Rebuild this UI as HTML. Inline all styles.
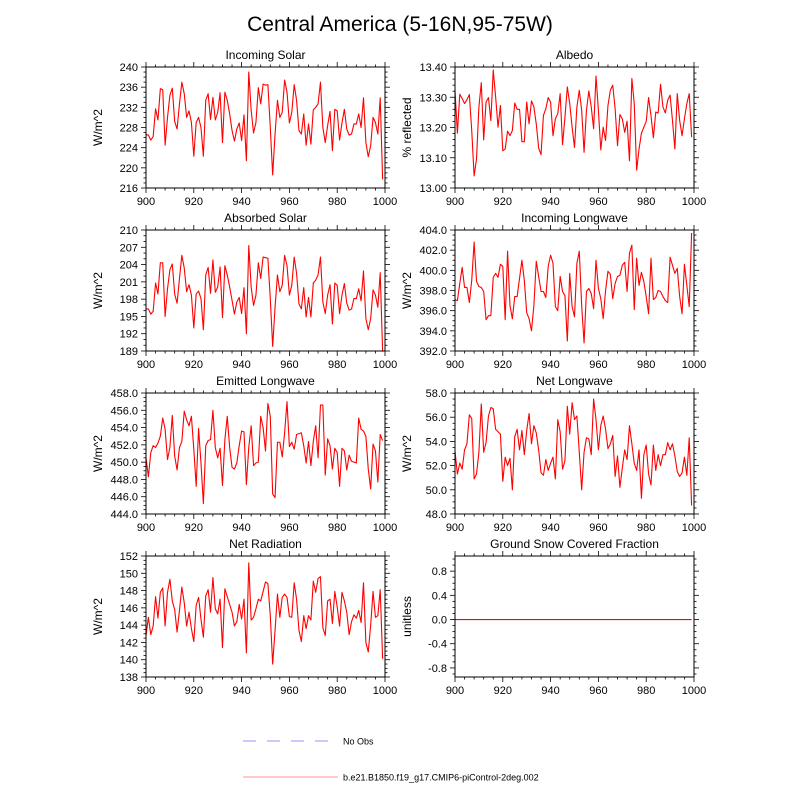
<!DOCTYPE html>
<html><head><meta charset="utf-8">
<style>
html,body{margin:0;padding:0;background:#fff;}
svg{display:block;font-family:"Liberation Sans",Arial,sans-serif;}
</style></head>
<body>
<svg id="chart" width="800" height="800" viewBox="0 0 800 800">
<text x="400" y="31" text-anchor="middle" font-size="21">Central America (5-16N,95-75W)</text>
<g>
<line x1="243" y1="741" x2="328" y2="741" stroke="#aaaaff" stroke-width="1.3" stroke-dasharray="13,11"/>
<text x="343" y="744.5" font-size="9">No Obs</text>
<line x1="243" y1="777" x2="338" y2="777" stroke="#ffaaaa" stroke-width="1.3"/>
<text x="343" y="780.5" font-size="9">b.e21.B1850.f19_g17.CMIP6-piControl-2deg.002</text>
</g>
</svg>
<script>
const years = Array.from({length:100},(_,i)=>900+i);
const xTicks = [900,920,940,960,980,1000];
const incomingSolar = [226.6,226.5,225.5,226.2,231.7,229.5,235.7,235.5,224.5,230,234.4,235.8,229.2,227.7,232.7,237,234.7,230,231.3,229,222.3,229,230,228,222.3,233.4,234.7,229.6,234,229.5,231,234.9,225,235,233.4,230.7,227.4,225.3,227.7,228.9,225.4,230.5,221.4,239,231.4,226.9,229,235.9,232.7,236.6,236.4,236.5,228,218.6,226.7,233.4,230,231,237.4,235,228.9,231,236.5,233.4,227.4,226.7,230.7,224.5,228.7,224.7,231.5,232,232.7,237,228,225,228.4,231.2,223.4,231.6,231.3,225.5,228.9,231.6,227.7,226.5,226.7,228.7,228.7,230.7,228,233.9,225,222.2,224.4,230,229,226.7,233.9,217.7];
const albedo = [13.323,13.181,13.31,13.296,13.279,13.292,13.309,13.19,13.04,13.096,13.268,13.348,13.159,13.284,13.299,13.223,13.39,13.301,13.201,13.273,13.123,13.129,13.188,13.173,13.19,13.281,13.26,13.26,13.153,13.153,13.284,13.212,13.288,13.268,13.212,13.132,13.11,13.24,13.262,13.299,13.284,13.173,13.229,13.246,13.312,13.143,13.234,13.334,13.279,13.201,13.134,13.268,13.323,13.257,13.118,13.257,13.321,13.268,13.196,13.37,13.257,13.126,13.201,13.157,13.273,13.323,13.34,13.262,13.14,13.243,13.229,13.184,13.221,13.09,13.362,13.279,13.059,13.129,13.181,13.201,13.22,13.299,13.24,13.166,13.251,13.248,13.343,13.268,13.248,13.29,13.307,13.223,13.129,13.312,13.223,13.173,13.229,13.279,13.312,13.168];
const absorbedSolar = [196.3,196.3,195.4,195.9,200.8,198.9,204.3,204.3,195,199.8,203.1,204.1,198.9,197.3,201.6,205.6,203.4,199.3,200.5,198.7,193,198.9,199.4,198.1,192.7,202.2,203.5,199,204.8,199.2,200.1,203.6,194.8,203.8,202.2,200.1,197.8,195.4,197.5,198.3,195.5,200,192,207.3,200.1,196.9,198.7,204.3,201.6,205.3,205.2,205.1,198.1,189.8,196.6,202.2,199.3,200.4,205.6,203.8,198.7,200.4,205.3,202.5,197.2,196.3,200,194.9,198.3,194.9,200.8,201.3,202.2,205.3,197.5,195.5,198.7,200.5,193.7,200.8,200.4,195.5,198.7,200.7,197.3,196.1,196.3,198.1,198.1,199.8,197.7,202.9,194.6,192.7,194.6,199.6,198.7,196.6,202.6,188.9];
const incomingLW = [397.1,397,398.7,400.3,398.3,398.3,396.8,399,402.8,398.9,398.4,398.3,397.9,395.1,395.5,395.5,399.3,399.7,399.3,400.6,400.4,395.1,401.9,396.5,395.2,397.4,397.4,399.2,401,399,395.8,395.2,394,396.5,400.9,399.4,397.9,397.9,397.3,400.4,401.5,400.7,396.4,396,399.4,397.9,397.5,393,399.7,396.4,395.4,400.7,401.9,396.5,392.8,397.9,398.2,397.7,396.2,401,398.2,397.2,395.2,398,399.9,399.6,397.2,398.7,399.4,399.5,400.5,400.8,397.9,401.7,402.5,396.1,401.2,398.5,399.8,398.9,397.4,395.7,401.2,397.1,397.3,398,397.9,397.4,397,396.8,401.3,400.5,399.7,400.2,397.4,395.7,400.6,398.5,396.4,403.7];
const emittedLW = [450.5,448.3,451.1,451.9,451.7,452.2,453,455.1,453.8,450.3,451.7,455.4,450.7,449.1,451.7,452.4,455.9,454.9,454.2,455.3,451.5,447.2,453.9,449.9,445.2,451.9,452.5,452.6,456,451.7,450.5,451.6,447.3,452.6,455.3,451.7,449.4,449.2,449.9,451.9,453.6,453.5,447.4,451.7,454.2,449.6,449.9,450,455.3,454,451.3,456.8,455.3,446.3,445.9,452.3,452.3,450.6,453.4,457,451.8,452.3,451.5,453.2,453.3,453.4,451.9,449.9,452.4,449.6,452.4,454.2,450.5,456.6,456.6,448.5,452.7,451.9,449.2,451.6,451.1,447.2,451.6,451.3,449.1,450.8,450.1,450,449.9,455.1,453.8,453.6,453,449.2,446.9,452.1,451.3,447.7,453.2,452.5];
const netLW = [53.2,51.3,52.2,51.7,53.3,53.8,56.2,55.9,50.9,51.3,53.1,57.1,53.1,53.9,56.1,56.8,56.7,55,54.8,54.6,50.7,52.7,52,52.6,50,54.4,55,53.3,54.9,52.9,54.9,56.3,53.8,55.3,54.7,53.3,51.4,51.2,52.5,51.6,52.2,52.7,50.9,55.8,54.8,51.7,52.4,56.9,54.6,57.2,55.8,56.1,53.1,50,53.1,54.3,54.2,52.9,57.5,55.8,53.3,55.3,56.1,55,53.4,53.8,54.5,51.1,52.8,50.2,51.8,53.3,52.5,55.3,53.8,52.2,51.6,53.3,49.3,52.9,53.7,51.3,50.4,53.7,51.6,52.9,52,52.9,52.9,53.9,53.3,53.8,52.8,51.5,51.1,51.4,52.7,51.2,54.3,48.7];
const netRad = [142.8,144.9,142.9,143.9,147.3,144.8,147.8,148.3,143.9,147.8,149.3,146.8,145.8,143.2,145.7,148.4,146.6,143.9,145.5,143.6,142.1,146.3,147.2,144.7,142.6,147.4,148.1,145.5,149.5,145.9,145.3,147,141.4,148.2,147.3,146.4,145.5,143.9,144.4,146.4,144.7,147,140.8,151.2,144.6,144.9,145.9,147,146.8,147.9,149,148.8,145.1,139.5,143.4,147.6,144.9,147.2,147.6,147.2,145,144.9,148.9,147,143.4,142.1,145.1,143.6,145.1,144.6,149.1,147.8,149.4,149.6,143.7,142.8,146.8,147,144.2,147.9,146.1,143.9,147.8,146.8,145.5,142.9,144.4,145.2,144.8,145.7,144.3,148.9,142,140.9,144,147.9,144.9,145.1,148.1,140.1];
const snowFrac = years.map(()=>0);
const yTicksIS = ["240","236","232","228","224","220","216"];
const yTicksAlb = ["13.40","13.30","13.20","13.10","13.00"];
const yTicksAbs = ["210","207","204","201","198","195","192","189"];
const yTicksILW = ["404.0","402.0","400.0","398.0","396.0","394.0","392.0"];
const yTicksELW = ["458.0","456.0","454.0","452.0","450.0","448.0","446.0","444.0"];
const yTicksNLW = ["58.0","56.0","54.0","52.0","50.0","48.0"];
const yTicksNR = ["152","150","148","146","144","142","140","138"];
const yTicksSnow = ["0.8","0.4","0.0","-0.4","-0.8"];

const NS="http://www.w3.org/2000/svg";
const svg=document.getElementById('chart');
function mk(tag,attrs,parent){const e=document.createElementNS(NS,tag);for(const k in attrs)e.setAttribute(k,attrs[k]);(parent||svg).appendChild(e);return e;}

function panel(o){
  const g=mk('g',{});
  
  
  const X0=o.x, X1=o.x+239, Y0=o.y, Y1=o.y+121;
  const xs=v=>X0+(v-900)/100*(X1-X0);
  const ys=v=>Y1-(v-o.ymin)/(o.ymax-o.ymin)*(Y1-Y0);
  for(let v=900; v<=1000; v+=4){
    const major=(v%20===0);
    const len=major?5:2.5;
    const px=xs(v);
    const t1=mk('line',{x1:px,y1:Y1,x2:px,y2:Y1+len,stroke:'#000','stroke-width':0.8},g);
    
    
    const t2=mk('line',{x1:px,y1:Y0,x2:px,y2:Y0-len,stroke:'#000','stroke-width':0.8},g);
    
    
  }
  xTicks.forEach(v=>{
    const t=mk('text',{x:xs(v),y:Y1+17,'text-anchor':'middle','font-size':11},g);
    t.textContent=String(v);
    
    
  });
  const majVals=o.yticks.map(s=>parseFloat(s));
  const majStep=majVals[0]-majVals[1];
  const minStep=majStep/o.minor;
  const start=majVals[majVals.length-1];
  const kmin=Math.ceil((o.ymin-start)/minStep-1e-6), kmax=Math.floor((o.ymax-start)/minStep+1e-6);
  for(let k=kmin;k<=kmax;k++){
    const v=start+k*minStep;
    const py=ys(v);
    const isMaj=(k%o.minor===0);
    const len=isMaj?5:2.5;
    const a=mk('line',{x1:X0,y1:py,x2:X0-len,y2:py,stroke:'#000','stroke-width':0.8},g);
    
    
    const b=mk('line',{x1:X1,y1:py,x2:X1+len,y2:py,stroke:'#000','stroke-width':0.8},g);
    
    
  }
  o.yticks.forEach(s=>{
    const t=mk('text',{x:X0-8,y:ys(parseFloat(s))+4,'text-anchor':'end','font-size':11},g);
    t.textContent=s;
    
    
  });
  const pts=o.data.map((v,i)=>xs(years[i]).toFixed(2)+','+ys(v).toFixed(2)).join(' ');
  const pl=mk('polyline',{points:pts,fill:'none',stroke:'#ff0000','stroke-width':1.1,'stroke-linejoin':'round'},g);
  
  
  const fr=mk('rect',{x:X0,y:Y0,width:X1-X0,height:Y1-Y0,fill:'none',stroke:'#000','stroke-width':1},g);
  
  
  const tt=mk('text',{x:(X0+X1)/2,y:Y0-8,'text-anchor':'middle','font-size':12},g);
  tt.textContent=o.title;
  
  
  const cx=o.x-44, cy=(Y0+Y1)/2;
  const yt=mk('text',{x:cx,y:cy,'text-anchor':'middle','font-size':12,transform:`rotate(-90 ${cx} ${cy})`},g);
  yt.textContent=o.ylabel;
  
  
}

const L=146, R=455;
panel({name:'incoming-solar',x:L,y:67,ymin:216,ymax:240,yticks:yTicksIS,minor:4,data:incomingSolar,title:'Incoming Solar',ylabel:'W/m^2'});
panel({name:'albedo',x:R,y:67,ymin:13.0,ymax:13.4,yticks:yTicksAlb,minor:5,data:albedo,title:'Albedo',ylabel:'% reflected'});
panel({name:'absorbed-solar',x:L,y:230,ymin:189,ymax:210,yticks:yTicksAbs,minor:3,data:absorbedSolar,title:'Absorbed Solar',ylabel:'W/m^2'});
panel({name:'incoming-longwave',x:R,y:230,ymin:392,ymax:404,yticks:yTicksILW,minor:4,data:incomingLW,title:'Incoming Longwave',ylabel:'W/m^2'});
panel({name:'emitted-longwave',x:L,y:393,ymin:444,ymax:458,yticks:yTicksELW,minor:4,data:emittedLW,title:'Emitted Longwave',ylabel:'W/m^2'});
panel({name:'net-longwave',x:R,y:393,ymin:48,ymax:58,yticks:yTicksNLW,minor:4,data:netLW,title:'Net Longwave',ylabel:'W/m^2'});
panel({name:'net-radiation',x:L,y:556,ymin:138,ymax:152,yticks:yTicksNR,minor:4,data:netRad,title:'Net Radiation',ylabel:'W/m^2'});
panel({name:'ground-snow',x:R,y:556,ymin:-0.95,ymax:1.05,yticks:yTicksSnow,minor:4,data:snowFrac,title:'Ground Snow Covered Fraction',ylabel:'unitless'});
</script>
</body></html>
